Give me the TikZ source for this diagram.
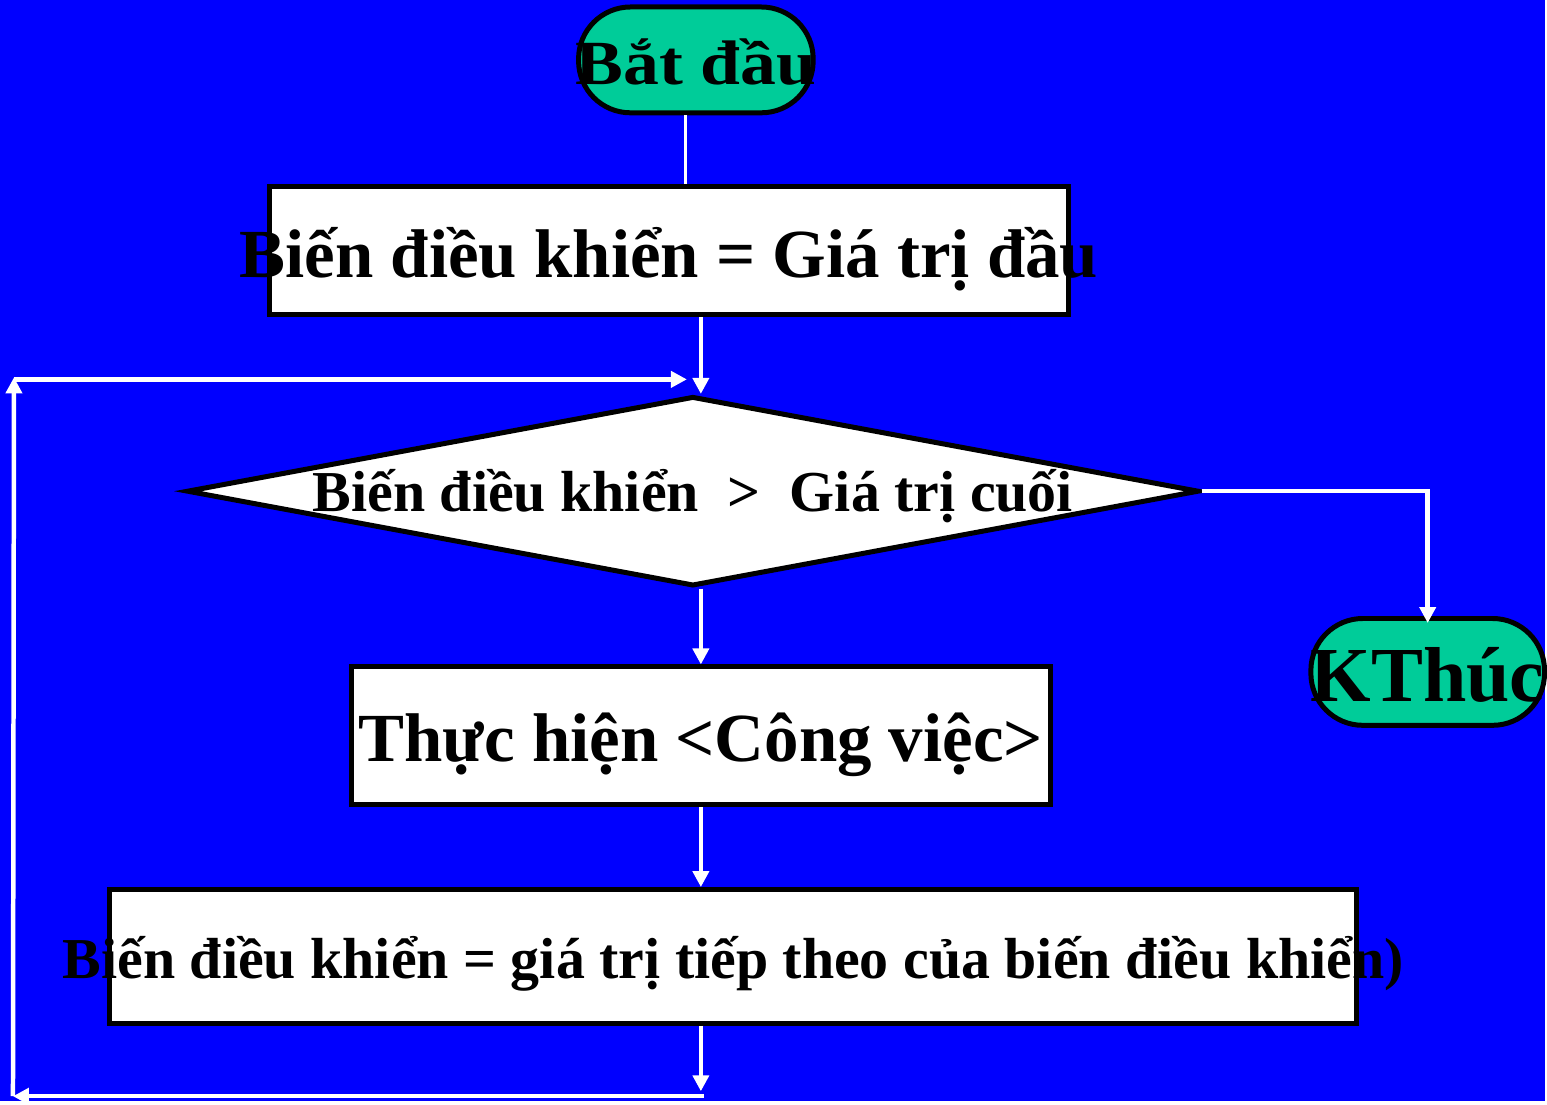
\documentclass[tikz,border=0pt]{standalone}
\usepackage{fontspec}
\setmainfont{Liberation Serif}
\usetikzlibrary{shapes.geometric,arrows.meta}
\definecolor{slideblue}{RGB}{0,0,255}
\definecolor{termgreen}{RGB}{0,204,153}

\begin{document}
\begin{tikzpicture}[x=0.5pt, y=-0.5pt,
    wire/.style = {draw=white, line width=2.25pt},
    flow/.style = {wire, -{Triangle[width=8pt,length=8pt]}},
    bigtext/.style = {font=\bfseries\fontsize{34.5}{40}\selectfont},
    smalltext/.style = {font=\bfseries\fontsize{29}{34}\selectfont},
    terminal/.style = {draw=black, line width=2.5pt, fill=termgreen, rounded corners=26pt, inner sep=0pt},
    procbox/.style = {draw=black, line width=2.5pt, fill=white, inner sep=0pt, text depth=0pt},
    testbox/.style = {diamond, draw=black, line width=2.5pt, fill=white, inner sep=0pt, text depth=0pt, smalltext}]
    \fill[slideblue] (0,0) rectangle (1547,1103);
    % shapes
    \node[terminal, minimum width=117.5pt, minimum height=53pt, text height=25pt, text depth=0pt,
          font=\bfseries\fontsize{31.5}{36}\selectfont] (start) at (697,60) {\makebox[0pt]{\scalebox{1.14}[1]{Bắt đầu}}};
    \node[procbox, bigtext, minimum width=400.5pt, minimum height=64.5pt, text height=27pt] (init) at (670,251) {\makebox[0pt]{Biến điều khiển = Giá trị đầu}};
    \node[testbox, minimum width=507pt, minimum height=95pt, text height=20pt] (test) at (694,492) {\makebox[0pt]{Biến điều khiển \ > \ Giá trị cuối}};
    \node[procbox, bigtext, minimum width=350pt, minimum height=69pt, text height=26pt] (work) at (702,737) {\makebox[0pt]{Thực hiện <Công việc>}};
    \node[procbox, smalltext, minimum width=624.5pt, minimum height=67pt, text height=22pt] (next) at (734.5,958) {\makebox[0pt]{Biến điều khiển = giá trị tiếp theo của biến điều khiển)}};
    \node[terminal, minimum width=117pt, minimum height=53.5pt, text height=30pt, text depth=0pt,
          font=\bfseries\fontsize{39}{44}\selectfont] (stop) at (1430,673) {\makebox[0pt]{KThúc}};
    % loop corners
    \coordinate (drop) at (702,1093);
    \coordinate (se) at (705,1098);
    \coordinate (sw) at (13,1098);
    \coordinate (nw) at (14,378);
    \coordinate (ne) at (688,380);
    % connectors
    \draw[wire, line width=1.5pt] ([xshift=-5pt]start.south) -- ([xshift=8.5pt]init.north);
    \draw[flow] (init.south -| work.north) -- (test.north -| work.north);
    \draw[flow, shorten >=-3.5pt] (test.east) -| (stop.north);
    \draw[flow] (test.south -| work.north) -- (work.north);
    \draw[flow] (work.south) -- (next.north -| work.south);
    \draw[flow] (next.south -| drop) -- (drop);
    \draw[flow] (se) -- (sw);
    \draw[flow] (sw |- se) -- (nw);
    \draw[flow] (nw |- ne) -- (ne);
\end{tikzpicture}
\end{document}
